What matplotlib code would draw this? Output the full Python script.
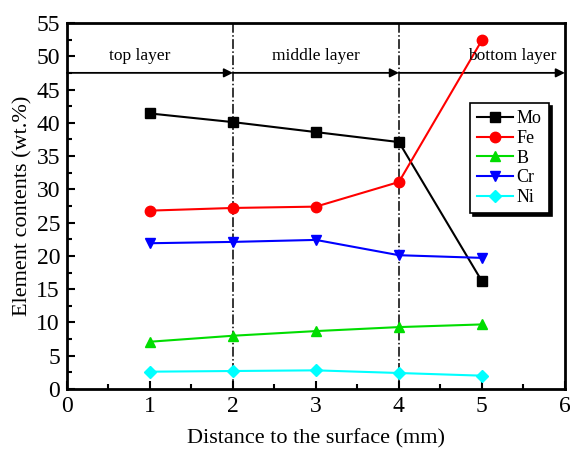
import matplotlib
matplotlib.use("Agg")
import matplotlib.pyplot as plt
from matplotlib.ticker import MultipleLocator

plt.rcParams["font.family"] = ["Liberation Serif", "DejaVu Serif"]
plt.rcParams["mathtext.fontset"] = "stix"

# Element contents along the depth (wt.%)
distance = [1, 2, 3, 4, 5]
mo = [41.4, 40.1, 38.6, 37.1, 16.2]
fe = [26.8, 27.2, 27.4, 31.1, 52.4]
b = [7.1, 8.0, 8.7, 9.3, 9.7]
cr = [21.9, 22.1, 22.4, 20.1, 19.7]
ni = [2.6, 2.7, 2.8, 2.4, 2.0]

# Layer boundaries and labels
boundaries = [0, 2, 4, 6]
layer_names = ["top layer", "middle layer", "bottom layer"]
layer_text_x = [0.88, 3.0, 5.37]

fig = plt.figure(figsize=(5.7, 4.5), dpi=100)
ax = fig.add_axes([0.1175, 0.1356, 0.8735, 0.8134])

series = [
    ("Mo", mo, "black", "s", 6.5),
    ("Fe", fe, "red", "o", 7.5),
    ("B", b, "#00dd00", "^", 7.5),
    ("Cr", cr, "blue", "v", 7.5),
    ("Ni", ni, "cyan", "D", 6),
]
for name, vals, color, marker, ms in series:
    ax.plot(distance, vals, color=color, marker=marker, markersize=ms,
            linewidth=1.5, label=name, zorder=3)

# Dash-dot dividers between layers
for xb in boundaries[1:-1]:
    ax.axvline(xb, color="black", linestyle="-.", linewidth=1.1, zorder=2)

# Layer arrows and names
arrow_y = 47.5
for i, name in enumerate(layer_names):
    ax.annotate("", xy=(boundaries[i + 1], arrow_y), xytext=(boundaries[i], arrow_y),
                arrowprops=dict(arrowstyle="-|>", color="black", lw=1.3,
                                mutation_scale=13, shrinkA=0, shrinkB=0),
                zorder=2)
    ax.text(layer_text_x[i], 50.0, name, ha="center", va="center", fontsize=12.5)

ax.set_xlim(0, 6)
ax.set_ylim(0, 55)
ax.xaxis.set_major_locator(MultipleLocator(1))
ax.xaxis.set_minor_locator(MultipleLocator(0.5))
ax.yaxis.set_major_locator(MultipleLocator(5))
ax.yaxis.set_minor_locator(MultipleLocator(2.5))
ax.tick_params(which="both", direction="in", width=1.5, labelsize=17,
               top=False, right=False)
ax.tick_params(which="major", length=6, pad=5)
ax.tick_params(which="minor", length=3.5)
for sp in ax.spines.values():
    sp.set_linewidth(2)

ax.set_xlabel("Distance to the surface (mm)", fontsize=16, labelpad=9)
ax.set_ylabel("Element contents (wt.%)", fontsize=16, labelpad=3)

leg = ax.legend(loc="upper left", bbox_to_anchor=(0.809, 0.781), borderaxespad=0,
                fontsize=13, handlelength=2.0, handletextpad=0.2,
                labelspacing=0.15, borderpad=0.4, fancybox=False,
                edgecolor="black", framealpha=1,
                shadow={"color": "black", "alpha": 1})
leg.get_frame().set_linewidth(1.2)

fig.savefig("out.png", dpi=100)
